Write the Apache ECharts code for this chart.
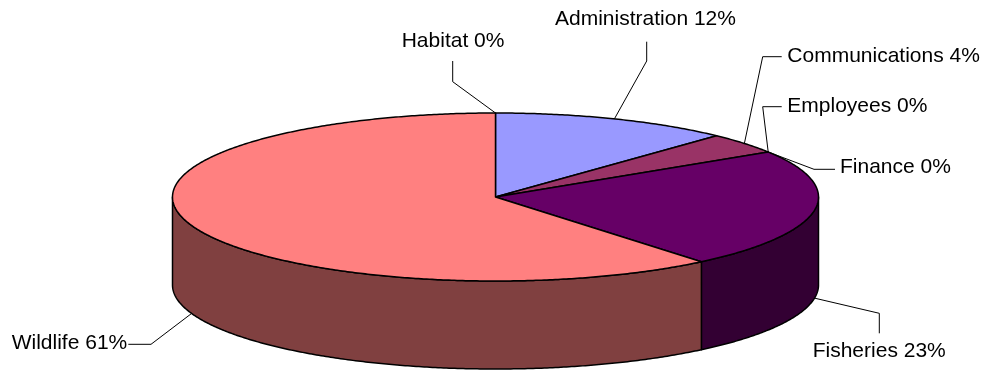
<!DOCTYPE html>
<html>
<head>
<meta charset="utf-8">
<script src="https://cdn.jsdelivr.net/npm/echarts@6/dist/echarts.min.js"></script>
<style>
  html, body { margin: 0; padding: 0; background: #ffffff; }
  #chart { width: 985px; height: 370px; }
</style>
</head>
<body>
<div id="chart"></div>
<script>
// Budget share by department (percent of total)
const categories = ['Administration', 'Communications', 'Employees', 'Finance', 'Fisheries', 'Wildlife', 'Habitat'];
const shares = [12, 4, 0, 0, 23, 61, 0];

// Slice palette: top face and darker side wall
const topColors  = ['#9999FF', '#993366', '#FFFFCC', '#CCFFFF', '#660066', '#FF8080', '#0066CC'];
const sideColors = ['#4D4D80', '#4D1A33', '#808066', '#668080', '#330033', '#804040', '#003366'];

// Tilted pie geometry (pixels)
const PIE = { cx: 495.5, cy: 197, rx: 323, ry: 84, depth: 88 };

// Label placement: text left edge / vertical middle, and leader-line elbows
const labelLayout = [
  { x: 555,   y: 19.5,  leader: [[646.7, 41.7], [646.7, 61]] },
  { x: 787.3, y: 56,    leader: [[781.7, 56.7], [762.7, 56.7]] },
  { x: 787.3, y: 106,   leader: [[781.7, 106.7], [762.7, 106.7]] },
  { x: 840,   y: 167.7, leader: [[835, 169.3], [814, 169.3]] },
  { x: 812.7, y: 351,   leader: [[879.3, 333.3], [879.3, 313.3]] },
  { x: 11.7,  y: 343.7, leader: [[128.3, 344.3], [151, 344.3]] },
  { x: 401.7, y: 41,    leader: [[452.7, 61], [452.7, 81.7]] }
];

const total = shares.reduce((a, b) => a + b, 0);
const starts = [];
shares.reduce((acc, v) => { starts.push(acc); return acc + v; }, 0);

// Angle measured clockwise from 12 o'clock
function pt(theta, drop) {
  return [PIE.cx + PIE.rx * Math.sin(theta), PIE.cy - PIE.ry * Math.cos(theta) + (drop || 0)];
}
function arc(a0, a1, drop) {
  const n = Math.max(2, Math.ceil(Math.abs(a1 - a0) / (Math.PI / 360)));
  const out = [];
  for (let k = 0; k <= n; k++) out.push(pt(a0 + (a1 - a0) * k / n, drop));
  return out;
}

function renderSlice(params, api) {
  const i = params.dataIndex;
  const v = api.value(0);
  const a0 = starts[i] / total * Math.PI * 2;
  const a1 = a0 + v / total * Math.PI * 2;
  const children = [];
  const edge = { stroke: '#000000', lineWidth: 1.5, lineJoin: 'round' };

  // Visible side wall (front half of the rim)
  const w0 = Math.max(a0, Math.PI / 2);
  const w1 = Math.min(a1, Math.PI * 1.5);
  if (w1 > w0) {
    children.push({
      type: 'polygon',
      z2: 1,
      shape: { points: arc(w0, w1, 0).concat(arc(w1, w0, PIE.depth)) },
      style: Object.assign({ fill: sideColors[i] }, edge)
    });
  }
  // Top face
  if (a1 > a0) {
    children.push({
      type: 'polygon',
      z2: 2,
      shape: { points: [[PIE.cx, PIE.cy]].concat(arc(a0, a1, 0)) },
      style: Object.assign({ fill: topColors[i] }, edge)
    });
  }
  // Leader line and label
  const mid = (a0 + a1) / 2;
  const anchor = pt(mid, Math.cos(mid) < -1e-6 ? PIE.depth : 0);
  const lay = labelLayout[i];
  children.push({
    type: 'polyline',
    z2: 5,
    shape: { points: lay.leader.concat([anchor]) },
    style: { stroke: '#000000', lineWidth: 1, fill: null }
  });
  children.push({
    type: 'text',
    z2: 6,
    x: lay.x,
    y: lay.y,
    style: {
      text: categories[i] + ' ' + v + '%',
      fill: '#000000',
      font: '21px "Liberation Sans", Arial, sans-serif',
      align: 'left',
      verticalAlign: 'middle'
    }
  });
  return { type: 'group', children: children };
}

const chart = echarts.init(document.getElementById('chart'), null, { renderer: 'canvas' });
chart.setOption({
  backgroundColor: '#ffffff',
  animation: false,
  series: [{
    type: 'custom',
    coordinateSystem: 'none',
    silent: true,
    renderItem: renderSlice,
    data: shares.map((v, i) => ({ name: categories[i], value: [v] }))
  }]
});
</script>
</body>
</html>
